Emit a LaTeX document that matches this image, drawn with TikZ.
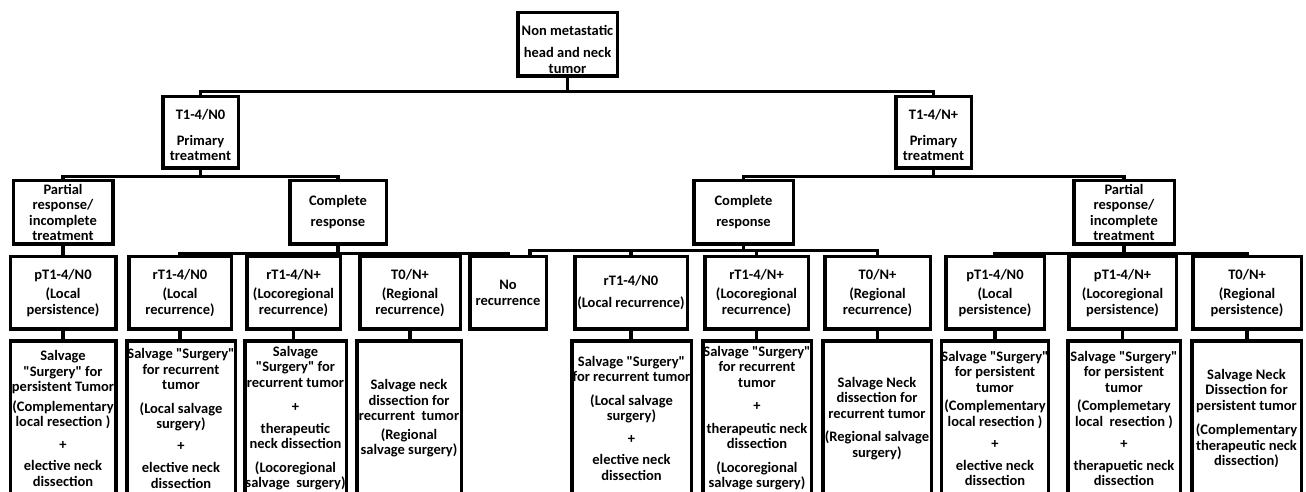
\documentclass[tikz,border=0pt]{standalone}
\usepackage{fontspec}
\setmainfont{Carlito}
\usepackage{tikz}

\tikzset{
  stagebox/.style={draw, line width=3.5pt, align=center, inner sep=0pt, anchor=north,
    font=\bfseries\fontsize{14.5}{15.5}\selectfont},
  link/.style={line width=3.5pt},
}
\newcommand{\qt}[1]{\textquotedbl#1\textquotedbl}

\begin{document}
\begin{tikzpicture}[x=1pt, y=-1pt]
  \useasboundingbox[fill=white] (0,0) rectangle (1306,491);

  % root and primary treatment
  \node[stagebox, minimum width=99.5pt, minimum height=63.5pt] (root) at (567.5,10.75)
    {\rule{0pt}{20pt}Non metastatic\\[7pt]head and neck\\tumor};
  \node[stagebox, minimum width=75.5pt, minimum height=71.5pt] (tnzero) at (200.5,94.75)
    {\rule{0pt}{16pt}T1-4/N0\\[10pt]Primary\\treatment};
  \node[stagebox, minimum width=75.5pt, minimum height=71.5pt] (tnplus) at (933.5,94.75)
    {\rule{0pt}{16pt}T1-4/N+\\[10pt]Primary\\treatment};

  % response after treatment
  \node[stagebox, minimum width=99.5pt, minimum height=63.5pt] (partL) at (63,178.75)
    {Partial\\response/\\incomplete\\treatment};
  \node[stagebox, minimum width=96.5pt, minimum height=63.5pt] (compL) at (338,178.75)
    {Complete\\[6pt]response};
  \node[stagebox, minimum width=99.5pt, minimum height=63.5pt] (compR) at (743.5,178.75)
    {Complete\\[6pt]response};
  \node[stagebox, minimum width=100.5pt, minimum height=63.5pt] (partR) at (1124,178.75)
    {Partial\\response/\\incomplete\\treatment};

  % staging of persistence / recurrence
  \node[stagebox, minimum width=105.5pt, minimum height=72.5pt] (st1) at (63,254.75)
    {pT1-4/N0\\[4pt](Local\\persistence)};
  \node[stagebox, minimum width=102.5pt, minimum height=72.5pt] (st2) at (180,254.75)
    {rT1-4/N0\\[4pt](Local\\recurrence)};
  \node[stagebox, minimum width=93.5pt, minimum height=72.5pt] (st3) at (293.5,254.75)
    {rT1-4/N+\\[4pt](Locoregional\\recurrence)};
  \node[stagebox, minimum width=100.5pt, minimum height=72.5pt] (st4) at (410,254.75)
    {T0/N+\\[4pt](Regional\\recurrence)};
  \node[stagebox, minimum width=76.5pt, minimum height=72.5pt] (st5) at (508,254.75)
    {No\\recurrence};
  \node[stagebox, minimum width=112.5pt, minimum height=72.5pt] (st6) at (631,254.75)
    {rT1-4/N0\\[6pt](Local recurrence)};
  \node[stagebox, minimum width=103.5pt, minimum height=72.5pt] (st7) at (756.5,254.75)
    {rT1-4/N+\\[4pt](Locoregional\\recurrence)};
  \node[stagebox, minimum width=105.5pt, minimum height=72.5pt] (st8) at (877.5,254.75)
    {T0/N+\\[4pt](Regional\\recurrence)};
  \node[stagebox, minimum width=98.5pt, minimum height=72.5pt] (st9) at (995,254.75)
    {pT1-4/N0\\[4pt](Local\\persistence)};
  \node[stagebox, minimum width=107.5pt, minimum height=72.5pt] (st10) at (1122.5,254.75)
    {pT1-4/N+\\[4pt](Locoregional\\persistence)};
  \node[stagebox, minimum width=108.5pt, minimum height=72.5pt] (st11) at (1247,254.75)
    {T0/N+\\[4pt](Regional\\persistence)};

  % salvage treatment
  \node[stagebox, minimum width=105.5pt, minimum height=155pt] (sv1) at (63,339)
    {Salvage\\\qt{Surgery} for\\persistent Tumor\\[4pt](Complementary\\local resection )\\[7pt]+\\[6pt]elective neck\\dissection};
  \node[stagebox, minimum width=108.5pt, minimum height=155pt] (sv2) at (181,339)
    {Salvage \qt{Surgery}\\for recurrent\\tumor\\[8pt](Local salvage\\surgery)\\[6pt]+\\[7pt]elective neck\\dissection};
  \node[stagebox, minimum width=101.5pt, minimum height=155pt] (sv3) at (295.5,339)
    {Salvage\\\qt{Surgery} for\\recurrent tumor\\[9pt]+\\[6pt]therapeutic\\neck dissection\\[8pt](Locoregional\\salvage\ \ surgery)};
  \node[stagebox, minimum width=104.5pt, minimum height=155pt] (sv4) at (409,339)
    {Salvage neck\\dissection for\\recurrent\ \ tumor\\[3pt](Regional\\salvage surgery)};
  \node[stagebox, minimum width=119.5pt, minimum height=155pt] (sv6) at (631.5,339)
    {Salvage \qt{Surgery}\\for recurrent tumor\\[8pt](Local salvage\\surgery)\\[7pt]+\\[6pt]elective neck\\dissection};
  \node[stagebox, minimum width=108.5pt, minimum height=155pt] (sv7) at (757,339)
    {Salvage \qt{Surgery}\\for recurrent\\tumor\\[8pt]+\\[7pt]therapeutic neck\\dissection\\[8pt](Locoregional\\salvage surgery)};
  \node[stagebox, minimum width=108.5pt, minimum height=155pt] (sv8) at (877,339)
    {Salvage Neck\\dissection for\\recurrent tumor\\[8pt](Regional salvage\\surgery)};
  \node[stagebox, minimum width=102.5pt, minimum height=155pt] (sv9) at (995,339)
    {Salvage \qt{Surgery}\\for persistent\\tumor\\[3pt](Complementary\\local resection )\\[7pt]+\\[6pt]elective neck\\dissection};
  \node[stagebox, minimum width=112.5pt, minimum height=155pt] (sv10) at (1124,339)
    {Salvage \qt{Surgery}\\for persistent\\tumor\\[3pt](Complemetary\\local\ \ resection )\\[7pt]+\\[6pt]therapuetic neck\\dissection};
  \node[stagebox, minimum width=109.5pt, minimum height=155pt] (sv11) at (1246.5,339)
    {Salvage Neck\\Dissection for\\persistent tumor\\[9pt](Complementary\\therapeutic neck\\dissection)};

  % connectors
  \draw[link] (root.south) -- ++(0,13.5) -| (tnzero.north);
  \draw[link] (root.south) -- ++(0,13.5) -| (tnplus.north);
  \draw[link] (tnzero.south) -- ++(0,6.5) -| (partL.north);
  \draw[link] (tnzero.south) -- ++(0,6.5) -| (compL.north);
  \draw[link] (tnplus.south) -- ++(0,6.5) -| (compR.north);
  \draw[link] (tnplus.south) -- ++(0,6.5) -| (partR.north);

  \draw[link] (partL.south) -- (partL.south |- st1.north);
  \foreach \k in {2,3,4,5}
    \draw[link] (compL.south) -- ++(0,7.5) -| (st\k.north);
  \foreach \k in {6,7,8}
    \draw[link] (compR.south) -- ++(0,4.5) -| (st\k.north);
  \draw[link] (compR.south) -- ++(0,4.5) -| ([xshift=22pt]st5.north);
  \foreach \k in {9,10,11}
    \draw[link] (partR.south) -- ++(0,7.5) -| (st\k.north);

  \foreach \k in {1,2,3,4,6,7,8,9,10,11}
    \draw[link] (st\k.south) -- (st\k.south |- sv\k.north);
\end{tikzpicture}
\end{document}
